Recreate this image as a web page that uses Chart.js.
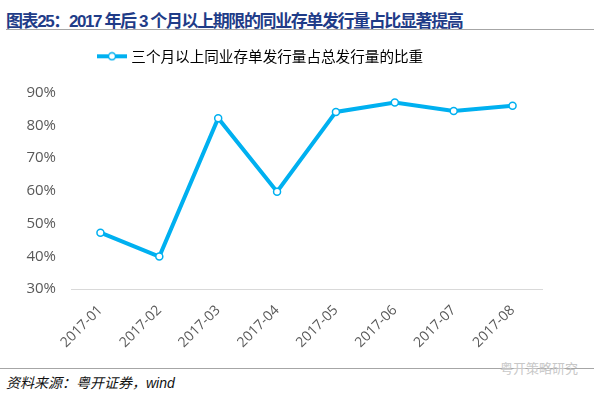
<!DOCTYPE html>
<html>
<head>
<meta charset="utf-8">
<script src="https://cdn.jsdelivr.net/npm/chart.js@4.4.0/dist/chart.umd.min.js"></script>
<style>
    html, body { margin: 0; padding: 0; background: #fff; }
    body { width: 594px; height: 395px; position: relative; overflow: hidden; }
    .title {
        position: absolute; left: 6px; top: 7px;
        font: bold 17px "Liberation Sans", "Noto Sans CJK SC", sans-serif;
        letter-spacing: -1.4px;
        color: #1f3c88; white-space: nowrap;
    }
    .rule { position: absolute; height: 1px; background: #a6a6a6; }
    .chart-box { position: absolute; left: 0; top: 36px; width: 594px; height: 313px; }
    .source {
        position: absolute; left: 6px; top: 372px;
        font: italic 14px "Liberation Sans", "Noto Sans CJK SC", sans-serif;
        color: #111; white-space: nowrap;
    }
    .mark {
        position: absolute; left: 500px; top: 358px;
        font: 13px "Noto Sans CJK SC", sans-serif; color: #c8c8c8; white-space: nowrap;
    }
</style>
</head>
<body>
<div class="title">图表25：2017 年后 3 个月以上期限的同业存单发行量占比显著提高</div>
<div class="rule" style="left:6px; top:29px; width:588px;"></div>
<div class="chart-box"><canvas id="lineChart"></canvas></div>
<div class="rule" style="left:0; top:368px; width:594px;"></div>
<div class="source">资料来源：粤开证券，wind</div>
<div class="mark">粤开策略研究</div>

<script>
const months = ['2017-01', '2017-02', '2017-03', '2017-04', '2017-05', '2017-06', '2017-07', '2017-08'];
const shareValues = [47.2, 39.9, 82.2, 59.7, 84.1, 87.0, 84.4, 86.0];
const seriesName = '三个月以上同业存单发行量占总发行量的比重';
const yTicks = [30, 40, 50, 60, 70, 80, 90];

const blue = '#00b0f0';

// legend marker: line with hollow circle
const legendIcon = document.createElement('canvas');
legendIcon.width = 30;
legendIcon.height = 10;
(function () {
    const c = legendIcon.getContext('2d');
    c.strokeStyle = blue;
    c.lineWidth = 4;
    c.beginPath();
    c.moveTo(0, 5);
    c.lineTo(30, 5);
    c.stroke();
    c.fillStyle = '#fff';
    c.lineWidth = 1.5;
    c.beginPath();
    c.arc(15, 5, 3.5, 0, Math.PI * 2);
    c.fill();
    c.stroke();
})();

const legendTweaks = {
    id: 'legendTweaks',
    beforeInit(chart) {
        const legend = chart.legend;
        const fit = legend.fit;
        legend.fit = function () {
            fit.call(this);
            this.height += 19;
        };
    },
    afterLayout(chart) {
        chart.legend.left = 90;
    }
};

new Chart(document.getElementById('lineChart'), {
    type: 'line',
    data: {
        labels: months,
        datasets: [{
            label: seriesName,
            data: shareValues,
            borderColor: blue,
            borderWidth: 4,
            pointRadius: 3.5,
            pointBorderWidth: 1.5,
            pointBackgroundColor: '#fff',
            pointBorderColor: blue,
            tension: 0
        }]
    },
    options: {
        responsive: true,
        maintainAspectRatio: false,
        animation: false,
        layout: { padding: { top: 3, right: 52, left: 0, bottom: 0 } },
        plugins: {
            tooltip: { enabled: false },
            legend: {
                position: 'top',
                align: 'start',
                labels: {
                    usePointStyle: true,
                    pointStyleWidth: 24,
                    padding: 10,
                    color: '#595959',
                    font: { size: 14.6, family: '"Noto Sans CJK SC", sans-serif' },
                    generateLabels: () => [{
                        text: seriesName,
                        pointStyle: legendIcon,
                        fillStyle: blue,
                        strokeStyle: blue,
                        lineWidth: 0,
                        datasetIndex: 0
                    }]
                }
            }
        },
        scales: {
            x: {
                offset: true,
                grid: { display: false, drawTicks: false },
                border: { display: true, color: '#d9d9d9', width: 1 },
                ticks: {
                    minRotation: 45,
                    maxRotation: 45,
                    padding: 13,
                    color: '#595959',
                    font: { size: 14, family: '"Open Sans", "DejaVu Sans", sans-serif' }
                },
                afterFit: s => { s.height = 60; }
            },
            y: {
                min: 30,
                max: 90,
                afterBuildTicks: s => { s.ticks = yTicks.map(v => ({ value: v })); },
                grid: { display: false, drawTicks: false },
                border: { display: false },
                ticks: {
                    padding: 15,
                    color: '#595959',
                    font: { size: 15, family: '"Open Sans", "DejaVu Sans", sans-serif' },
                    callback: v => v + '%'
                },
                afterFit: s => { s.width = 71; }
            }
        }
    },
    plugins: [legendTweaks]
});
</script>
</body>
</html>
